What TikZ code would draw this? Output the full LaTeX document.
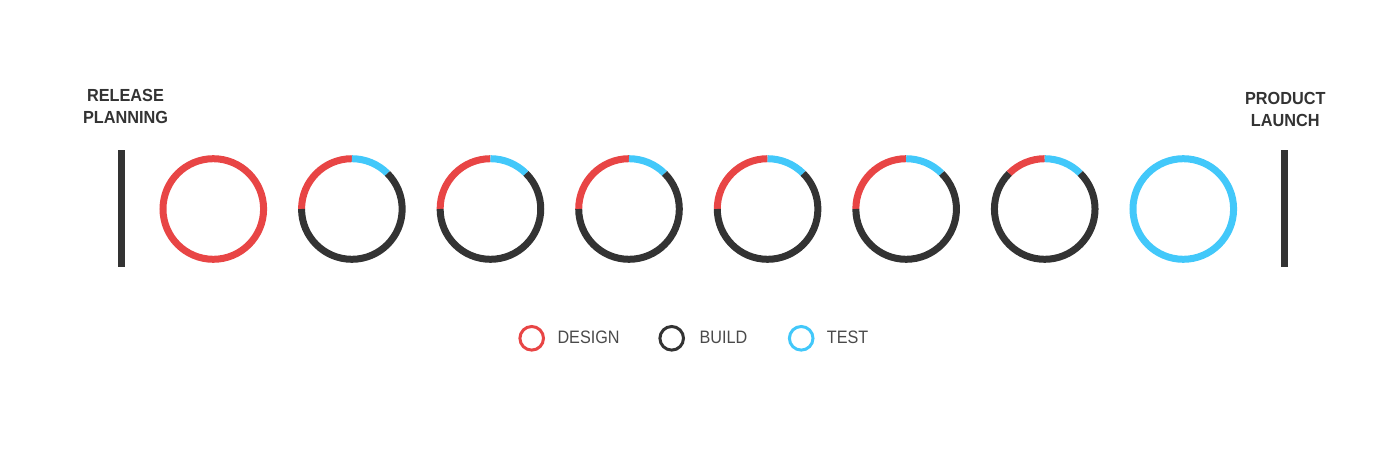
\documentclass[tikz,border=0pt]{standalone}
\usepackage{fontspec}
\setmainfont{Liberation Sans}
\newfontfamily\labfont[FakeStretch=0.93]{Liberation Sans}
\newfontfamily\legfont[FakeStretch=0.9]{Liberation Sans}
\definecolor{dsn}{HTML}{E84545}
\definecolor{bld}{HTML}{333333}
\definecolor{tst}{HTML}{42C8FA}
\definecolor{txt}{HTML}{333333}
\definecolor{legtxt}{HTML}{4A4A4A}
\newcommand\ringr{50.3}
\newcommand\ringseg[4]{\draw[seg,#4] ([shift={(#2:\ringr)}]#1) arc[start angle=#2,end angle=#3,radius=\ringr];}
\begin{document}
\begin{tikzpicture}[x=1pt,y=1pt,
  seg/.style={line width=7pt,line cap=butt},
  bar/.style={line width=7pt,bld,line cap=butt},
  lab/.style={inner sep=0pt,align=center,text=txt,font=\labfont\bfseries\fontsize{17.5}{21.7}\selectfont},
  legring/.style={line width=3pt},
  legtext/.style={inner sep=0pt,anchor=base west,text=legtxt,font=\legfont\fontsize{18}{20}\selectfont}]
\useasboundingbox (0,0) rectangle (1400,451);
% coordinates of ring centres
\foreach \i in {1,...,8} {\coordinate (c\i) at ({213.3+138.57*(\i-1)},242);}
% bars
\coordinate (bl1) at (121.7,301); \coordinate (bl2) at (121.7,184);
\coordinate (br1) at (1284.7,301); \coordinate (br2) at (1284.7,184);
\draw[bar] (bl1) -- (bl2);
\draw[bar] (br1) -- (br2);
% labels
\node[lab,anchor=north] (rel) at (125.5,361.5) {RELEASE\\PLANNING};
\node[lab,anchor=north] (pl) at (1285.3,359) {PRODUCT\\LAUNCH};
% ring 1
\draw[seg,dsn] (c1) circle[radius=\ringr];
% rings 2-6
\foreach \i in {2,...,6} {
  \ringseg{c\i}{90}{180}{dsn}
  \ringseg{c\i}{45}{90}{tst}
  \ringseg{c\i}{-180}{45}{bld}
}
% ring 7
\ringseg{c7}{90}{135}{dsn}
\ringseg{c7}{45}{90}{tst}
\ringseg{c7}{-225}{45}{bld}
% ring 8
\draw[seg,tst] (c8) circle[radius=\ringr];
% legend
\coordinate (l1) at (531.7,112.7);
\coordinate (l2) at (671.7,112.7);
\coordinate (l3) at (801.2,112.7);
\draw[legring,dsn] (l1) circle[radius=11.8];
\draw[legring,bld] (l2) circle[radius=11.8];
\draw[legring,tst] (l3) circle[radius=11.8];
\node[legtext] (t1) at (557.3,107.7) {DESIGN};
\node[legtext] (t2) at (699.3,107.7) {BUILD};
\node[legtext] (t3) at (826.7,107.7) {TEST};
\end{tikzpicture}
\end{document}
